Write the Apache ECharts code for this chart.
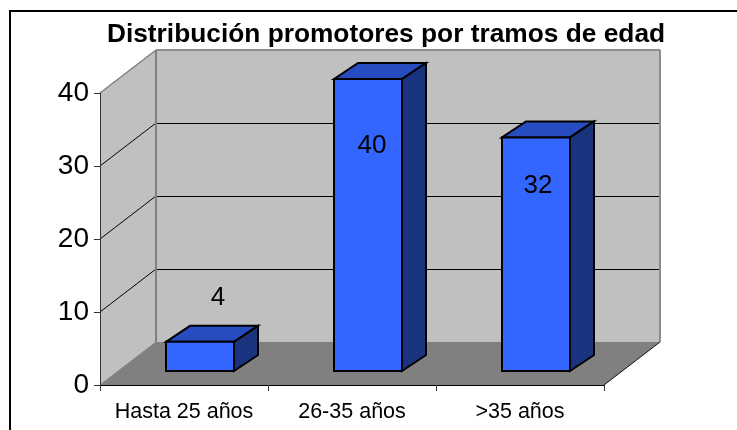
<!DOCTYPE html>
<html>
<head>
<meta charset="utf-8">
<style>
html,body{margin:0;padding:0;background:#fff;overflow:hidden}
#box{width:737px;height:430px}
</style>
<script src="https://cdn.jsdelivr.net/npm/echarts@6/dist/echarts.min.js"></script>
</head>
<body>
<div id="box"></div>
<script>
var titleText = 'Distribución promotores por tramos de edad';
var categories = ['Hasta 25 años', '26-35 años', '>35 años'];
var values = [4, 40, 32];
var yTicks = [0, 10, 20, 30, 40];

// desplazamientos de la falsa perspectiva 3D, en px
var WALL_DX = 56, WALL_DY = 43;      // profundidad del suelo
var BAR_DX = 24, BAR_DY = 16;        // profundidad de la barra
var BAR_W = 68;
var BAR_SHIFT_X = 16, BAR_SHIFT_Y = 14;  // la barra va en medio del suelo
// las etiquetas estan movidas a mano en el original
var labelShift = [[18, -44], [4, 67], [2, 48]];

function poly(points, fill, stroke, lw) {
    return {
        type: 'polygon',
        shape: { points: points },
        style: { fill: fill, stroke: stroke || 'none', lineWidth: lw || 0, lineJoin: 'miter' }
    };
}
function line(x1, y1, x2, y2, color, lw) {
    return {
        type: 'line',
        shape: { x1: x1, y1: y1, x2: x2, y2: y2 },
        style: { stroke: color, lineWidth: lw || 1 }
    };
}

function renderWalls(params, api) {
    var band = api.size([1, 0])[0];
    var first = api.coord([0, 0]);
    var x0 = first[0] - band / 2;
    var x1 = x0 + band * categories.length;
    var y0 = first[1];
    var yTop = api.coord([0, yTicks[yTicks.length - 1]])[1];
    var children = [
        poly([[x0 + WALL_DX, yTop - WALL_DY], [x1 + WALL_DX, yTop - WALL_DY], [x1 + WALL_DX, y0 - WALL_DY], [x0 + WALL_DX, y0 - WALL_DY]], '#c0c0c0'),
        poly([[x0, yTop], [x0 + WALL_DX, yTop - WALL_DY], [x0 + WALL_DX, y0 - WALL_DY], [x0, y0]], '#c0c0c0'),
        poly([[x0, y0], [x0 + WALL_DX, y0 - WALL_DY], [x1 + WALL_DX, y0 - WALL_DY], [x1, y0]], '#808080')
    ];
    // lineas de division en pared lateral y fondo
    for (var i = 1; i < yTicks.length - 1; i++) {
        var y = Math.round(api.coord([0, yTicks[i]])[1]);
        children.push(line(x0, y, x0 + WALL_DX, y - WALL_DY, '#000'));
        children.push(line(x0 + WALL_DX, y - WALL_DY + 0.5, x1 + WALL_DX, y - WALL_DY + 0.5, '#000'));
    }
    // bordes grises de las paredes
    children.push(line(x0, yTop, x0 + WALL_DX, yTop - WALL_DY, '#808080', 1.5));
    children.push(line(x0 + WALL_DX, yTop - WALL_DY, x1 + WALL_DX, yTop - WALL_DY, '#8c8c8c', 2));
    children.push(line(x0 + WALL_DX, yTop - WALL_DY, x0 + WALL_DX, y0 - WALL_DY, '#808080', 2));
    children.push(line(x1 + WALL_DX, yTop - WALL_DY, x1 + WALL_DX, y0 - WALL_DY, '#8c8c8c', 2));
    children.push(line(x0, y0, x0 + WALL_DX, y0 - WALL_DY, '#808080', 1));
    children.push(line(x1, y0, x1 + WALL_DX, y0 - WALL_DY, '#111', 1));
    return { type: 'group', children: children };
}

function renderBar(params, api) {
    var i = api.value(0);
    var v = api.value(1);
    var base = api.coord([i, 0]);
    var top = api.coord([i, v]);
    var x0 = base[0] + BAR_SHIFT_X - BAR_W / 2;
    var x1 = x0 + BAR_W;
    var yb = base[1] - BAR_SHIFT_Y;
    var yt = top[1] - BAR_SHIFT_Y;
    var s = labelShift[i];
    return {
        type: 'group',
        children: [
            poly([[x0, yt], [x0 + BAR_DX, yt - BAR_DY], [x1 + BAR_DX, yt - BAR_DY], [x1, yt]], '#264cbf', '#000', 2),
            poly([[x1, yb], [x1 + BAR_DX, yb - BAR_DY], [x1 + BAR_DX, yt - BAR_DY], [x1, yt]], '#19337f', '#000', 2),
            poly([[x0, yb], [x1, yb], [x1, yt], [x0, yt]], '#3366ff', '#000', 2),
            {
                type: 'text',
                style: {
                    text: String(v),
                    x: base[0] + BAR_SHIFT_X + s[0],
                    y: yt + s[1],
                    align: 'center',
                    verticalAlign: 'middle',
                    fill: '#000',
                    font: '26px "Liberation Sans", Arial, sans-serif'
                }
            }
        ]
    };
}

var myChart = echarts.init(document.getElementById('box'));
var option = {
    animation: false,
    backgroundColor: '#fff',
    title: {
        text: titleText,
        left: 381,
        top: 17,
        textAlign: 'center',
        textStyle: {
            fontFamily: '"Liberation Sans", Arial, sans-serif',
            fontWeight: 'bold',
            fontSize: 26.3,
            color: '#000'
        }
    },
    grid: { left: 100, top: 93, width: 504, height: 292 },
    xAxis: {
        type: 'category',
        data: categories,
        z: 5,
        axisLine: { lineStyle: { color: '#000', width: 1 } },
        axisTick: { show: true, alignWithLabel: false, length: 6, lineStyle: { color: '#333' } },
        axisLabel: {
            interval: 0,
            margin: 16,
            fontFamily: '"Liberation Sans", Arial, sans-serif',
            fontSize: 21.5,
            color: '#000'
        }
    },
    yAxis: {
        type: 'value',
        min: 0,
        max: 40,
        interval: 10,
        z: 5,
        splitLine: { show: false },
        axisLine: { show: true, lineStyle: { color: '#333', width: 1 } },
        axisTick: { show: true, length: 6, lineStyle: { color: '#333' } },
        axisLabel: {
            margin: 11,
            fontFamily: '"Liberation Sans", Arial, sans-serif',
            fontSize: 28,
            color: '#000'
        }
    },
    graphic: [{
        // marco del grafico, se sale por la derecha y por abajo
        type: 'rect',
        z: 100,
        shape: { x: 10, y: 11, width: 800, height: 500 },
        style: { fill: 'none', stroke: '#000', lineWidth: 2 }
    }],
    series: [
        {
            type: 'custom',
            z: 1,
            renderItem: renderWalls,
            data: [[0, 0]],
            encode: { x: 0, y: 1 },
            silent: true
        },
        {
            type: 'custom',
            z: 2,
            renderItem: renderBar,
            data: values.map(function (v, i) { return [i, v]; }),
            encode: { x: 0, y: 1 }
        }
    ]
};
myChart.setOption(option);
</script>
</body>
</html>
